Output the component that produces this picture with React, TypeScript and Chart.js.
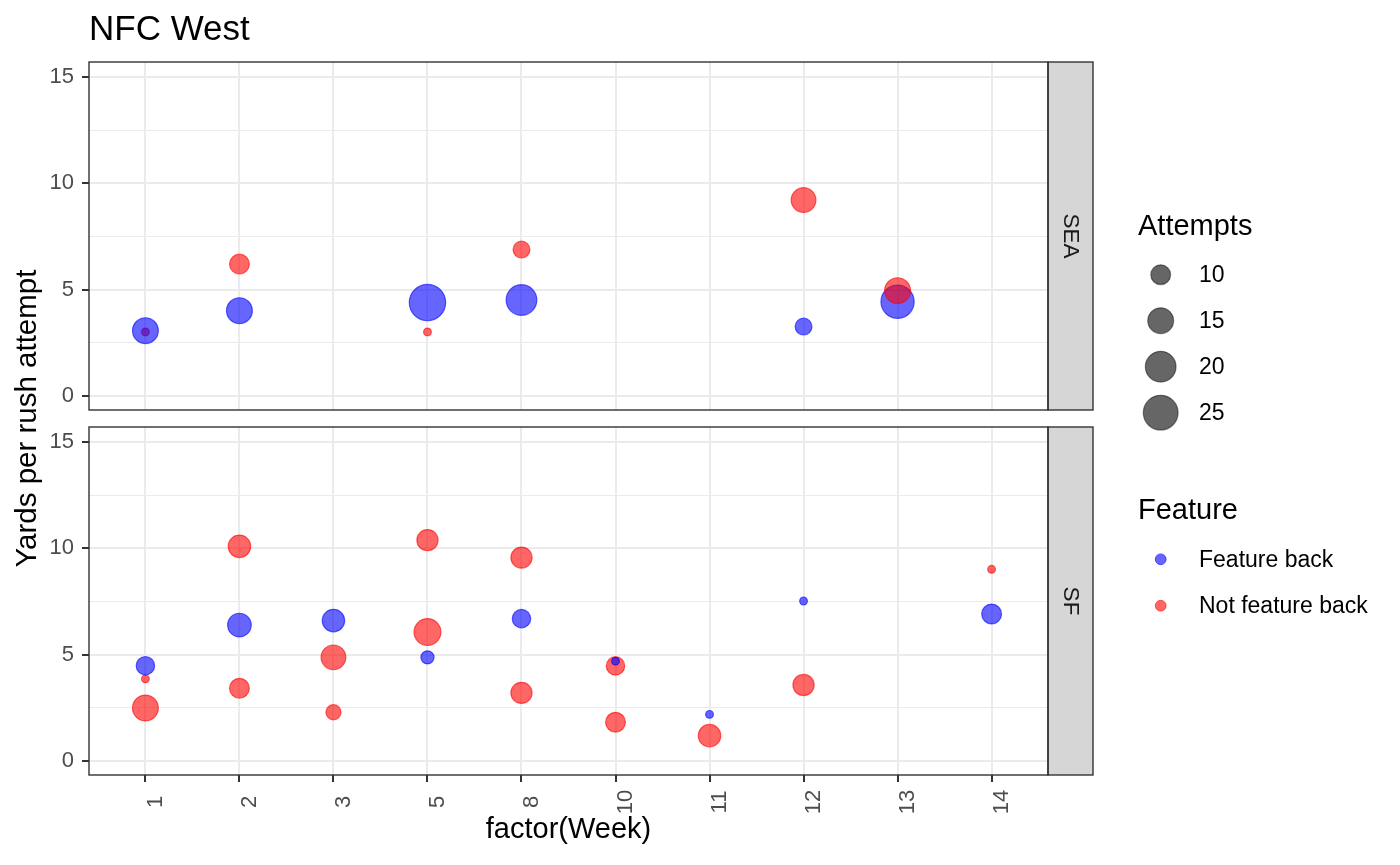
import React, { useEffect, useRef } from "react";
import { Chart, registerables } from "chart.js";

Chart.register(...registerables);

// ---------- data ----------
const weeks = ["1", "2", "3", "5", "8", "10", "11", "12", "13", "14"];
const yMajorTicks = [0, 5, 10, 15];
const yMinorTicks = [2.5, 7.5, 12.5];
const panelLabels = ["SEA", "SF"];
const sizeLegendValues = [10, 15, 20, 25];
const featureLabels = ["Feature back", "Not feature back"];

// SEA
const seaFeatureWeeks = ["1", "2", "5", "8", "12", "13"];
const seaFeatureYards = [3.07, 4.01, 4.39, 4.51, 3.26, 4.43];
const seaFeatureAttempts = [15, 15, 27, 20, 8, 23];
const seaOtherWeeks = ["1", "2", "5", "8", "12", "13"];
const seaOtherYards = [3.01, 6.2, 3.01, 6.88, 9.21, 4.95];
const seaOtherAttempts = [4, 10, 4, 8, 14, 15];

// SF
const sfFeatureWeeks = ["1", "2", "3", "5", "8", "10", "11", "12", "14"];
const sfFeatureYards = [4.48, 6.39, 6.6, 4.87, 6.69, 4.69, 2.19, 7.52, 6.91];
const sfFeatureAttempts = [9, 13, 12, 6, 9, 4, 4, 4, 10];
const sfOtherWeeks = ["1", "1", "2", "2", "3", "3", "5", "5", "8", "8", "10", "10", "11", "12", "14"];
const sfOtherYards = [3.86, 2.49, 10.09, 3.42, 4.87, 2.29, 10.38, 6.06, 9.56, 3.2, 4.47, 1.82, 1.19, 3.57, 9.01];
const sfOtherAttempts = [4, 15, 12, 10, 14, 7, 11, 16, 11, 11, 9, 10, 12, 11, 4];

// ---------- styles ----------
const FONT = '"Liberation Sans", Arial, Helvetica, sans-serif';
const FEATURE_FILL = "rgba(0,0,255,0.6)";
const OTHER_FILL = "rgba(255,0,0,0.6)";
const GRID = "#EBEBEB";
const DARK = "#333333";
const TICK_TEXT = "#4D4D4D";
const W = 1400;
const H = 865;
const PANEL_LEFT = 89;
const PANEL_RIGHT = 1048;
const STRIP_W = 45;
const PANELS = [
  { top: 62, bottom: 410 },
  { top: 427, bottom: 775 },
];

const diameter = (a: number) => 1.6 + 7.34 * Math.sqrt(Math.max(a - 3, 0));

type Pt = { week: string; yards: number; attempts: number; feature: boolean };
const series = (w: string[], y: number[], a: number[], feature: boolean): Pt[] =>
  w.map((wk, i) => ({ week: wk, yards: y[i], attempts: a[i], feature }));

const panelPoints: Pt[][] = [
  [
    ...series(seaFeatureWeeks, seaFeatureYards, seaFeatureAttempts, true),
    ...series(seaOtherWeeks, seaOtherYards, seaOtherAttempts, false),
  ],
  [
    ...series(sfFeatureWeeks, sfFeatureYards, sfFeatureAttempts, true),
    ...series(sfOtherWeeks, sfOtherYards, sfOtherAttempts, false),
  ],
].map((arr) => arr.slice().sort((a, b) => a.yards - b.yards));

function drawFrame(chart: any, label: string) {
  const { ctx, chartArea } = chart;
  const { left, top, right, bottom } = chartArea;
  ctx.save();
  ctx.fillStyle = "#D6D6D6";
  ctx.fillRect(right, top, STRIP_W, bottom - top);
  ctx.strokeStyle = DARK;
  ctx.lineWidth = 1.4;
  ctx.strokeRect(right, top, STRIP_W, bottom - top);
  ctx.strokeRect(left, top, right - left, bottom - top);
  ctx.translate(right + STRIP_W / 2, (top + bottom) / 2);
  ctx.rotate(Math.PI / 2);
  ctx.font = `22.5px ${FONT}`;
  ctx.fillStyle = "#1A1A1A";
  ctx.textAlign = "center";
  ctx.textBaseline = "middle";
  ctx.fillText(label, 0, 0);
  ctx.restore();
}

function drawTopDecor(chart: any) {
  const { ctx } = chart;
  ctx.save();
  ctx.fillStyle = "#000";
  ctx.font = `35px ${FONT}`;
  ctx.textAlign = "left";
  ctx.textBaseline = "alphabetic";
  ctx.fillText("NFC West", 89, 40);
  ctx.translate(36, (PANELS[0].top + PANELS[1].bottom) / 2);
  ctx.rotate(-Math.PI / 2);
  ctx.font = `29.5px ${FONT}`;
  ctx.textAlign = "center";
  ctx.fillText("Yards per rush attempt", 0, 0);
  ctx.restore();
}

function drawBottomDecor(chart: any) {
  const { ctx } = chart;
  const xs = chart.scales.x;
  ctx.save();
  // x tick labels
  ctx.font = `22px ${FONT}`;
  ctx.fillStyle = TICK_TEXT;
  ctx.textAlign = "center";
  ctx.textBaseline = "alphabetic";
  weeks.forEach((wk, i) => {
    const px = xs.getPixelForValue(i);
    ctx.save();
    ctx.translate(px + 16.5, 802);
    ctx.rotate(-Math.PI / 2);
    ctx.fillText(wk, 0, 0);
    ctx.restore();
  });
  // x title
  ctx.fillStyle = "#000";
  ctx.font = `29px ${FONT}`;
  ctx.fillText("factor(Week)", (PANEL_LEFT + PANEL_RIGHT) / 2, 838);

  // size legend
  ctx.textAlign = "left";
  ctx.fillText("Attempts", 1138, 235);
  ctx.font = `23px ${FONT}`;
  ctx.textBaseline = "middle";
  sizeLegendValues.forEach((v, i) => {
    const cy = 274.7 + i * 46;
    ctx.beginPath();
    ctx.arc(1160.7, cy, diameter(v) / 2 - 0.6, 0, Math.PI * 2);
    ctx.fillStyle = "rgba(0,0,0,0.6)";
    ctx.fill();
    ctx.lineWidth = 1.2;
    ctx.strokeStyle = "rgba(0,0,0,0.45)";
    ctx.stroke();
    ctx.fillStyle = "#000";
    ctx.fillText(String(v), 1199, cy + 1);
  });

  // feature legend
  ctx.textBaseline = "alphabetic";
  ctx.font = `29px ${FONT}`;
  ctx.fillStyle = "#000";
  ctx.fillText("Feature", 1138, 519);
  ctx.font = `23px ${FONT}`;
  ctx.textBaseline = "middle";
  featureLabels.forEach((lab, i) => {
    const cy = 559.3 + i * 46.4;
    const c = i === 0 ? FEATURE_FILL : OTHER_FILL;
    ctx.beginPath();
    ctx.arc(1160.7, cy, 5.4, 0, Math.PI * 2);
    ctx.fillStyle = c;
    ctx.fill();
    ctx.lineWidth = 1;
    ctx.strokeStyle = c;
    ctx.stroke();
    ctx.fillStyle = "#000";
    ctx.fillText(lab, 1199, cy + 1);
  });
  ctx.restore();
}

function makeConfig(idx: number): any {
  const pts = panelPoints[idx];
  const { top, bottom } = PANELS[idx];
  const isBottom = idx === PANELS.length - 1;
  const allY = [...yMajorTicks, ...yMinorTicks].sort((a, b) => a - b);
  return {
    type: "bubble",
    data: {
      datasets: [
        {
          data: pts.map((p) => ({
            x: weeks.indexOf(p.week),
            y: p.yards,
            r: diameter(p.attempts) / 2 - 0.6,
          })),
          backgroundColor: pts.map((p) => (p.feature ? FEATURE_FILL : OTHER_FILL)),
          borderColor: pts.map((p) => (p.feature ? FEATURE_FILL : OTHER_FILL)),
          borderWidth: 1.2,
          clip: false,
        },
      ],
    },
    options: {
      responsive: false,
      animation: false,
      events: [],
      layout: {
        autoPadding: false,
        padding: { left: 0, right: W - PANEL_RIGHT, top, bottom: H - bottom },
      },
      plugins: {
        legend: { display: false },
        tooltip: { enabled: false },
        title: { display: false },
      },
      scales: {
        x: {
          type: "linear",
          position: "bottom",
          min: -0.6,
          max: weeks.length - 1 + 0.6,
          afterBuildTicks: (s: any) => {
            s.ticks = weeks.map((_, i) => ({ value: i }));
          },
          afterFit: (s: any) => {
            s.height = 0;
          },
          ticks: { display: false },
          border: { display: false },
          grid: {
            color: GRID,
            lineWidth: 2,
            drawTicks: isBottom,
            tickLength: 7,
            tickColor: DARK,
            tickWidth: 2,
          },
        },
        y: {
          type: "linear",
          position: "left",
          min: -0.66,
          max: 15.7,
          afterBuildTicks: (s: any) => {
            s.ticks = allY.map((v) => ({ value: v }));
          },
          afterFit: (s: any) => {
            s.width = PANEL_LEFT;
          },
          border: { display: false },
          ticks: {
            padding: 8,
            color: TICK_TEXT,
            font: { family: FONT, size: 22 },
            callback: (v: number) => (yMajorTicks.includes(v) ? String(v) : ""),
          },
          grid: {
            color: GRID,
            lineWidth: (c: any) => (yMajorTicks.includes(c.tick?.value) ? 2 : 1.1),
            tickLength: 7,
            tickWidth: 2,
            tickColor: (c: any) => (yMajorTicks.includes(c.tick?.value) ? DARK : "rgba(0,0,0,0)"),
          },
        },
      },
    },
    plugins: [
      {
        id: "decor" + idx,
        afterDraw: (chart: any) => {
          drawFrame(chart, panelLabels[idx]);
          if (idx === 0) drawTopDecor(chart);
          if (isBottom) drawBottomDecor(chart);
        },
      },
    ],
  };
}

function Panel({ idx }: { idx: number }) {
  const ref = useRef<HTMLCanvasElement | null>(null);
  useEffect(() => {
    if (!ref.current) return;
    const chart = new Chart(ref.current, makeConfig(idx));
    return () => chart.destroy();
  }, [idx]);
  return (
    <canvas
      ref={ref}
      width={W}
      height={H}
      style={{ position: "absolute", left: 0, top: 0, width: W, height: H }}
    />
  );
}

export default function App() {
  return (
    <div
      style={{
        position: "fixed",
        left: 0,
        top: 0,
        width: W,
        height: H,
        background: "#fff",
        overflow: "hidden",
      }}
    >
      {panelLabels.map((_, i) => (
        <Panel key={i} idx={i} />
      ))}
    </div>
  );
}
